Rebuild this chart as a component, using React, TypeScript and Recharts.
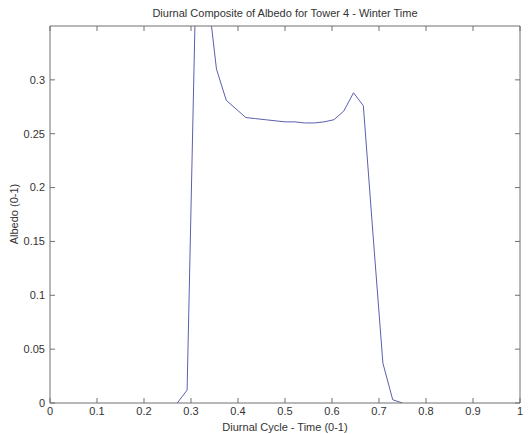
import React from 'react';
import { LineChart, Line, XAxis, YAxis, Label } from 'recharts';

const timeValues = [
  0.2708, 0.2917, 0.3125, 0.3333, 0.3542, 0.375, 0.3958, 0.4167, 0.4375,
  0.4583, 0.4792, 0.5, 0.5208, 0.5417, 0.5625, 0.5833, 0.6042, 0.625,
  0.6458, 0.6667, 0.6875, 0.7083, 0.7292, 0.75,
];
const albedoValues = [
  0, 0.012, 0.434, 0.389, 0.31, 0.281, 0.273, 0.265, 0.264,
  0.263, 0.262, 0.261, 0.261, 0.26, 0.26, 0.261, 0.263, 0.271,
  0.288, 0.276, 0.155, 0.037, 0.003, 0,
];
const xTicks = [0, 0.1, 0.2, 0.3, 0.4, 0.5, 0.6, 0.7, 0.8, 0.9, 1];
const yTicks = [0, 0.05, 0.1, 0.15, 0.2, 0.25, 0.3];

const titleText = 'Diurnal Composite of Albedo for Tower 4 - Winter Time';
const xLabelText = 'Diurnal Cycle - Time (0-1)';
const yLabelText = 'Albedo (0-1)';

const data = timeValues.map((t, i) => ({ t, a: albedoValues[i] }));

const FONT = '"Liberation Sans", Arial, sans-serif';
const AXIS = '#707070';
const TEXT = '#333333';
const TL = 5;

const BottomTick = (p: any) => (
  <g>
    <line x1={p.x} y1={p.y} x2={p.x} y2={p.y - TL} stroke={AXIS} />
    <text x={p.x} y={p.y + 4} dy="0.71em" textAnchor="middle" fontSize={11} fill={TEXT} fontFamily={FONT}>
      {String(p.payload.value)}
    </text>
  </g>
);
const TopTick = (p: any) => (
  <line x1={p.x} y1={p.y} x2={p.x} y2={p.y + TL} stroke={AXIS} />
);
const LeftTick = (p: any) => (
  <g>
    <line x1={p.x} y1={p.y} x2={p.x + TL} y2={p.y} stroke={AXIS} />
    <text x={p.x - 5} y={p.y} dy="0.355em" textAnchor="end" fontSize={11} fill={TEXT} fontFamily={FONT}>
      {String(p.payload.value)}
    </text>
  </g>
);
const RightTick = (p: any) => (
  <line x1={p.x} y1={p.y} x2={p.x - TL} y2={p.y} stroke={AXIS} />
);

export default function App() {
  return (
    <div style={{ position: 'absolute', left: 0, top: 0, width: 529, height: 434, background: '#fff' }}>
      <LineChart
        width={529}
        height={434}
        data={data}
        margin={{ top: 25, right: 8, bottom: 0, left: 0 }}
      >
        <XAxis
          xAxisId="b"
          dataKey="t"
          type="number"
          domain={[0, 1]}
          ticks={xTicks}
          height={31}
          tickSize={0}
          tickMargin={0}
          tickLine={false}
          stroke={AXIS}
          tick={BottomTick}
          interval={0}
        >
          <Label value={xLabelText} position="insideBottom" offset={3} style={{ fontSize: 11, fill: TEXT, fontFamily: FONT }} />
        </XAxis>
        <XAxis
          xAxisId="t"
          orientation="top"
          dataKey="t"
          type="number"
          domain={[0, 1]}
          ticks={xTicks}
          height={1}
          tickSize={0}
          tickMargin={0}
          tickLine={false}
          stroke={AXIS}
          tick={TopTick}
          interval={0}
        />
        <YAxis
          yAxisId="l"
          type="number"
          domain={[0, 0.35]}
          allowDataOverflow
          ticks={yTicks}
          width={50}
          tickSize={0}
          tickMargin={0}
          tickLine={false}
          stroke={AXIS}
          tick={LeftTick}
          interval={0}
        />
        <YAxis
          yAxisId="r"
          orientation="right"
          type="number"
          domain={[0, 0.35]}
          allowDataOverflow
          ticks={yTicks}
          width={1}
          tickSize={0}
          tickMargin={0}
          tickLine={false}
          stroke={AXIS}
          tick={RightTick}
          interval={0}
        />
        <Line
          xAxisId="b"
          yAxisId="l"
          type="linear"
          dataKey="a"
          stroke="#5b5fae"
          strokeWidth={1}
          dot={false}
          isAnimationActive={false}
        />
      </LineChart>
      <div
        style={{
          position: 'absolute',
          left: 50,
          width: 470,
          top: 6,
          textAlign: 'center',
          fontFamily: FONT,
          fontSize: 11,
          color: TEXT,
          lineHeight: '14px',
        }}
      >
        {titleText}
      </div>
      <div
        style={{
          position: 'absolute',
          left: 14,
          top: 214,
          transform: 'translate(-50%, -50%) rotate(-90deg)',
          whiteSpace: 'nowrap',
          fontFamily: FONT,
          fontSize: 11,
          color: TEXT,
          lineHeight: '14px',
        }}
      >
        {yLabelText}
      </div>
    </div>
  );
}
